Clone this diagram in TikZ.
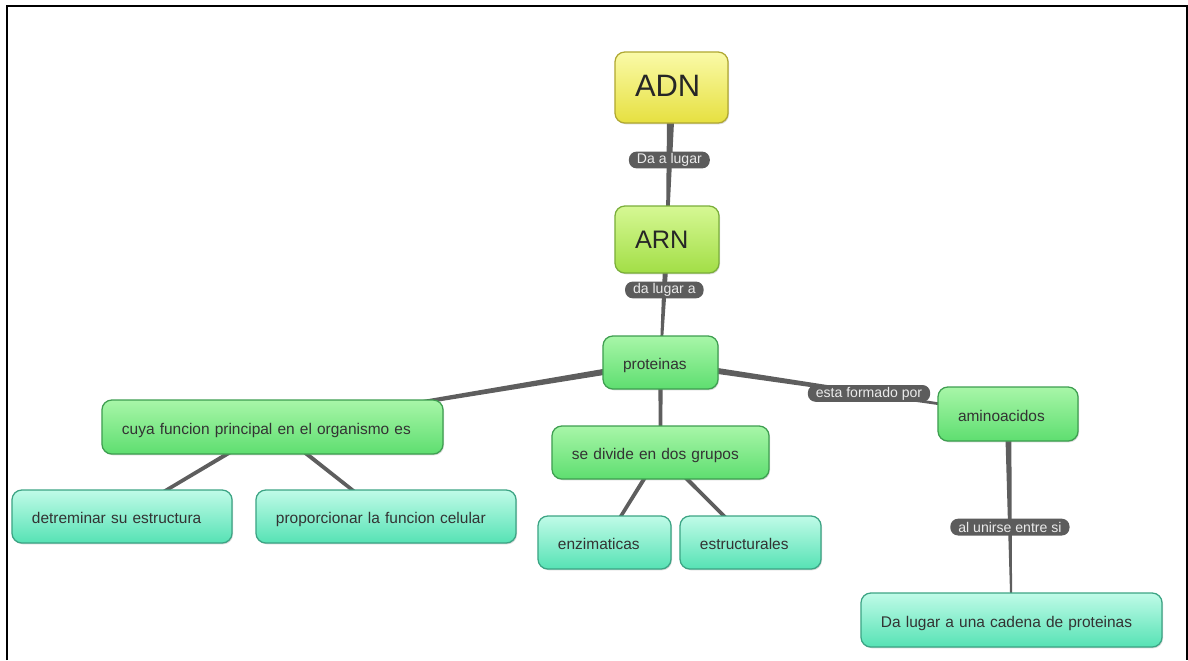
\documentclass[tikz,border=0pt]{standalone}
\usepackage{fontspec}
\setmainfont{Liberation Sans}
\usetikzlibrary{calc,backgrounds,shadows}
\definecolor{linkgray}{HTML}{5E5E5E}
\definecolor{pillgray}{HTML}{5C5C5C}
\definecolor{txtgray}{HTML}{333333}
\definecolor{yeltop}{HTML}{FAFAA8}
\definecolor{yelbot}{HTML}{E6E040}
\definecolor{yelline}{HTML}{B0A832}
\definecolor{limetop}{HTML}{D6F894}
\definecolor{limebot}{HTML}{A2DE46}
\definecolor{limeline}{HTML}{7AAE3A}
\definecolor{greentop}{HTML}{A8F6A8}
\definecolor{greenbot}{HTML}{5EDE70}
\definecolor{greenline}{HTML}{3E9E50}
\definecolor{tealtop}{HTML}{C0FBE8}
\definecolor{tealbot}{HTML}{56E2B4}
\definecolor{tealline}{HTML}{3CA484}
% tapered link: from, to, half width at from, half width at to
\newcommand{\taperlink}[4]{%
  \fill[linkgray] ($(#1)!#3!90:(#2)$) -- ($(#2)!#4!-90:(#1)$)
    -- ($(#2)!#4!90:(#1)$) -- ($(#1)!#3!-90:(#2)$) -- cycle;}
\begin{document}
\begin{tikzpicture}[x=0.025cm,y=-0.025cm,
    concept/.style={rounded corners=7pt, draw, line width=0.9pt, inner xsep=5mm,
      inner ysep=1pt, align=left, text=txtgray, text height=12pt, text depth=2pt,
      font=\fontsize{11}{13}\selectfont,
      drop shadow={shadow xshift=0.7pt, shadow yshift=-0.9pt, opacity=0.3}},
    yelbox/.style={concept, draw=yelline, top color=yeltop, bottom color=yelbot},
    limebox/.style={concept, draw=limeline, top color=limetop, bottom color=limebot},
    greenbox/.style={concept, draw=greenline, top color=greentop, bottom color=greenbot},
    tealbox/.style={concept, draw=tealline, top color=tealtop, bottom color=tealbot},
    pill/.style={fill=pillgray, text=white!92!black, rounded corners=5.5pt, inner xsep=2mm,
      inner ysep=0pt, minimum height=4.2mm, font=\fontsize{10}{12}\selectfont}]
  \useasboundingbox (0,0) rectangle (1188,660);
  \draw[line width=1.5pt] (7,660) -- (7,6) -- (1187,6) -- (1187,660);

  \draw (671.5,87.5) node[yelbox, minimum height=17.75mm, text width=18.25mm,
    text height=15.8pt, text depth=3.6pt,
    font=\fontsize{22}{25}\selectfont, text=black!85] (adn) {ADN};
  \draw (667,239.5) node[limebox, minimum height=16.75mm, text width=16mm,
    text height=12.9pt, text depth=0pt,
    font=\fontsize{18}{21}\selectfont, text=black!85] (arn) {ARN};
  \draw (660.5,362.5) node[greenbox, minimum height=13.25mm, text width=18.75mm] (prot) {proteinas};
  \draw (272.5,427) node[greenbox, minimum height=13.5mm, text width=75.25mm] (cuya) {cuya funcion principal en el organismo es};
  \draw (660.5,452.5) node[greenbox, minimum height=13.25mm, text width=44.25mm] (divide) {se divide en dos grupos};
  \draw (1008,414) node[greenbox, minimum height=13.5mm, text width=25mm] (amino) {aminoacidos};
  \draw (122,516.5) node[tealbox, minimum height=13.25mm, text width=45mm] (detr) {detreminar su estructura};
  \draw (386,516.5) node[tealbox, minimum height=13.25mm, text width=55mm] (prop) {proporcionar la funcion celular};
  \draw (604.5,542.5) node[tealbox, minimum height=13.25mm, text width=23.25mm] (enzi) {enzimaticas};
  \draw (750.5,542.5) node[tealbox, minimum height=13.25mm, text width=25.25mm] (estr) {estructurales};
  \draw (1011.5,620) node[tealbox, minimum height=13.5mm, text width=65.25mm] (cadena) {Da lugar a una cadena de proteinas};

  \begin{scope}[on background layer]
    \taperlink{adn}{arn}{3pt}{0.8pt}
    \taperlink{arn}{prot}{2.2pt}{0.7pt}
    \taperlink{prot}{cuya}{2.4pt}{0.8pt}
    \taperlink{prot}{amino}{2.4pt}{0.6pt}
    \taperlink{prot}{divide}{1.6pt}{1.2pt}
    \taperlink{cuya}{detr}{1.5pt}{1.2pt}
    \taperlink{cuya}{prop}{1.5pt}{1.2pt}
    \taperlink{divide}{enzi}{1.5pt}{1.2pt}
    \taperlink{divide}{estr}{1.5pt}{1.2pt}
    \taperlink{amino}{cadena}{2.3pt}{0.5pt}
  \end{scope}

  \path (adn.center) -- node[pill, pos=0.477] (lbla) {Da a lugar} (arn.center);
  \path (arn.center) -- node[pill, pos=0.41] (lblb) {da lugar a} (prot.center);
  \path (prot.center) -- node[pill, pos=0.6] (lblc) {esta formado por} (amino.center);
  \path (amino.center) -- node[pill, pos=0.549] (lbld) {al unirse entre si} (cadena.center);
\end{tikzpicture}
\end{document}
